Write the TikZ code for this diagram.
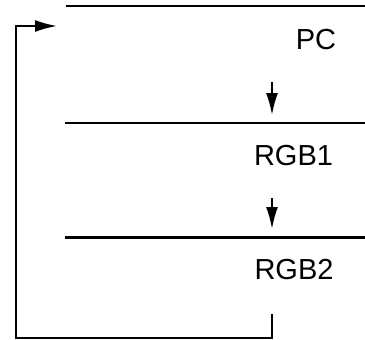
\documentclass[tikz,border=0pt]{standalone}
\usepackage{fontspec}
\setmainfont{Liberation Sans}
\usetikzlibrary{arrows.meta}

\begin{document}
\begin{tikzpicture}[
    x=1pt, y=-1pt,
    stage/.style={font=\fontsize{29}{30}\selectfont, inner sep=0pt},
    rule/.style={line width=2.2pt},
    flow/.style={->, line width=2pt},
    >={Latex[length=22pt,width=12pt]}
]
    \useasboundingbox (0,0) rectangle (365,340);

    % stage boundaries
    \draw[rule] (66,6) -- (365,6);
    \draw[rule] (65,123) -- (365,123);
    \draw[rule] (65,237.5) -- (365,237.5);

    \node[stage] (pc) at (316,40) {PC};
    \node[stage] (rgb1) at (293.5,155.5) {RGB1};
    \node[stage] (rgb2) at (294,270) {RGB2};

    \coordinate (pcout) at (272,82);
    \coordinate (rgbin) at (272,115);
    \coordinate (rgbout) at (272,198);
    \coordinate (rgbtwoin) at (272,229);
    \coordinate (back) at (272,314);
    \coordinate (top) at (57,26);

    \draw[flow] (pcout) -- (rgbin);
    \draw[flow] (rgbout) -- (rgbtwoin);
    \draw[flow] (back) |- (16,338) |- (top);
\end{tikzpicture}
\end{document}
